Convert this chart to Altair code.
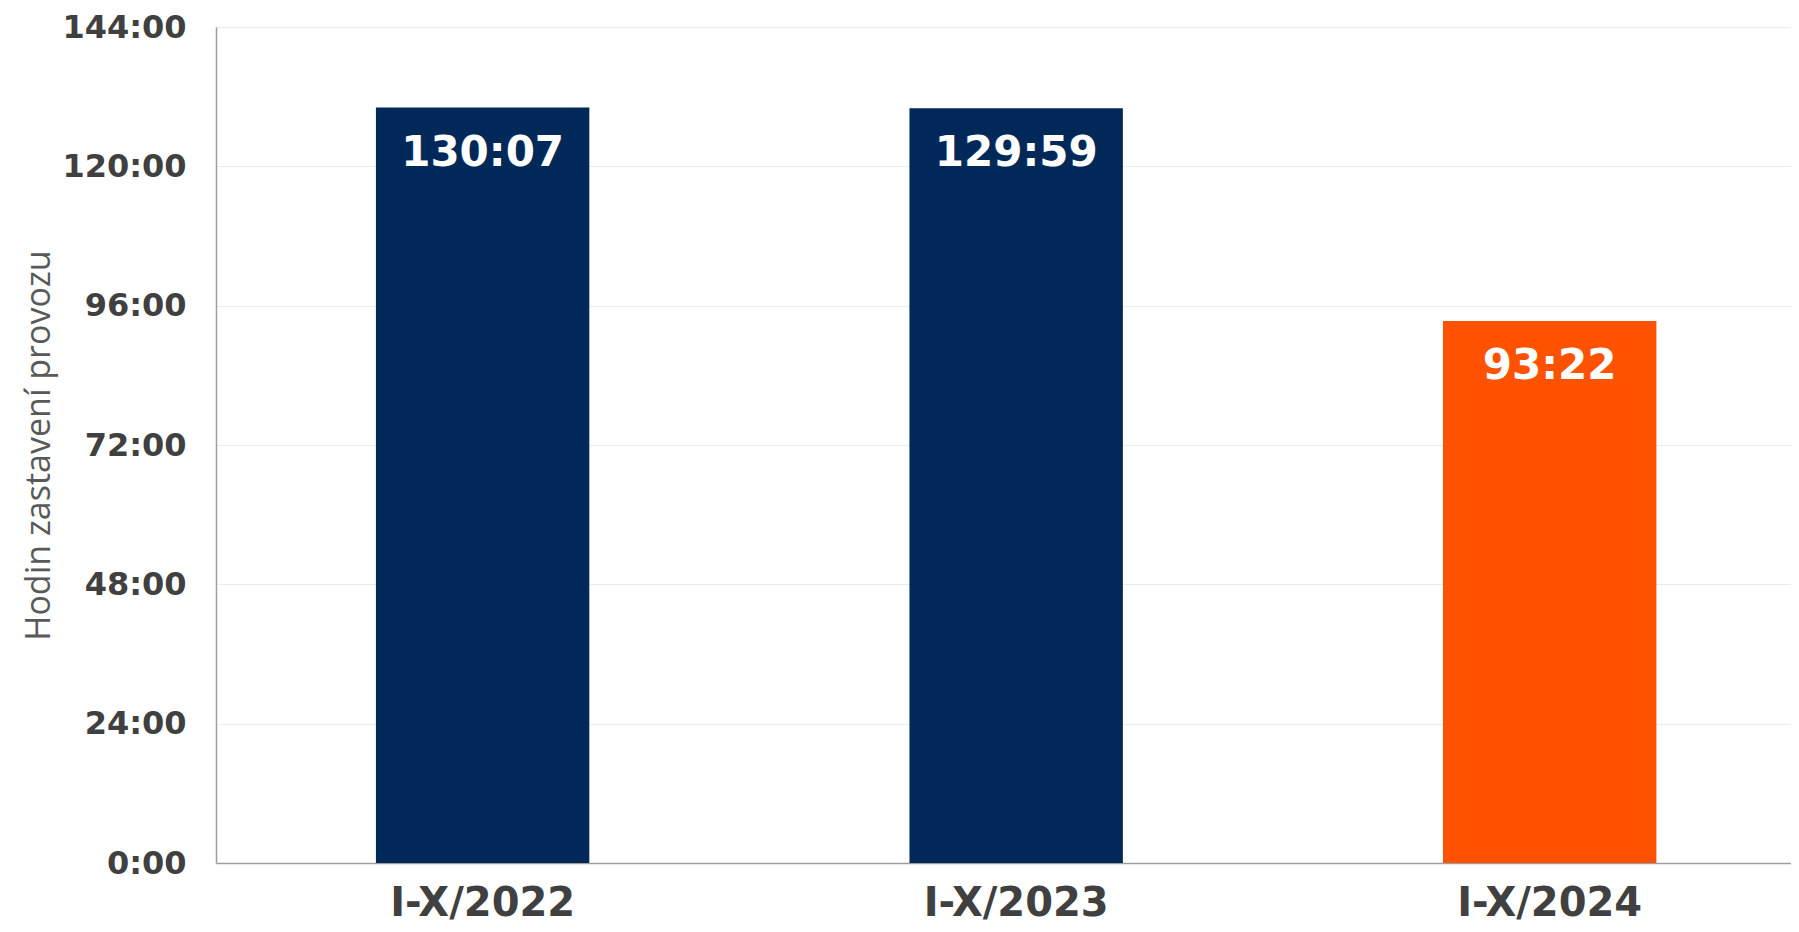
import altair as alt
import pandas as pd

categories = ["I-X/2022", "I-X/2023", "I-X/2024"]
labels = ["130:07", "129:59", "93:22"]
bar_colors = ["#00295A", "#00295A", "#FF5200"]
y_ticks = [0, 24, 48, 72, 96, 120, 144]


def to_hours(s):
    h, m = s.split(":")
    return int(h) + int(m) / 60.0


df = pd.DataFrame({
    "period": categories,
    "hours": [to_hours(s) for s in labels],
    "label": labels,
})

x_enc = alt.X(
    "period:N",
    sort=categories,
    title=None,
    scale=alt.Scale(paddingInner=0.6, paddingOuter=0.276, align=0.543),
    axis=alt.Axis(
        labelAngle=0,
        labelFont="DejaVu Sans",
        labelFontWeight="bold",
        labelFontSize=40,
        labelColor="#404040",
        labelPadding=20,
        labelLimit=0,
        ticks=False,
        domainColor="#9e9e9e",
        domainWidth=1.5,
        grid=False,
    ),
)

y_scale = alt.Scale(domain=[0, 144], nice=False)

bars = alt.Chart(df).mark_bar().encode(
    x=x_enc,
    y=alt.Y(
        "hours:Q",
        scale=y_scale,
        title="Hodin zastavení provozu",
        axis=alt.Axis(
            values=y_ticks,
            labelExpr="floor(datum.value) + ':' + (round((datum.value - floor(datum.value))*60) < 10 ? '0' : '') + round((datum.value - floor(datum.value))*60)",
            labelFont="DejaVu Sans",
            labelFontWeight="bold",
            labelFontSize=32,
            labelColor="#404040",
            labelPadding=30,
            ticks=False,
            domainColor="#9e9e9e",
            domainWidth=1.5,
            gridColor="#ebebeb",
            gridWidth=1,
            titleFont="Open Sans",
            titleFontWeight="normal",
            titleFontSize=34,
            titleColor="#595959",
            titlePadding=5,
        ),
    ),
    color=alt.Color(
        "period:N",
        sort=categories,
        scale=alt.Scale(domain=categories, range=bar_colors),
        legend=None,
    ),
)

text = alt.Chart(df).mark_text(
    font="DejaVu Sans",
    fontWeight="bold",
    fontSize=42,
    color="white",
    baseline="middle",
    align="center",
    dy=45,
).encode(
    x=alt.X("period:N", sort=categories),
    y=alt.Y("hours:Q", scale=y_scale),
    text="label:N",
)

chart = alt.layer(bars, text).properties(
    width=1575,
    height=836,
    autosize=alt.AutoSizeParams(type="none"),
    padding={"left": 208, "top": 19, "right": 0, "bottom": 61},
).configure_view(stroke=None).configure(background="white")

chart.save("out.html", embed_options={"renderer": "svg", "actions": False})
